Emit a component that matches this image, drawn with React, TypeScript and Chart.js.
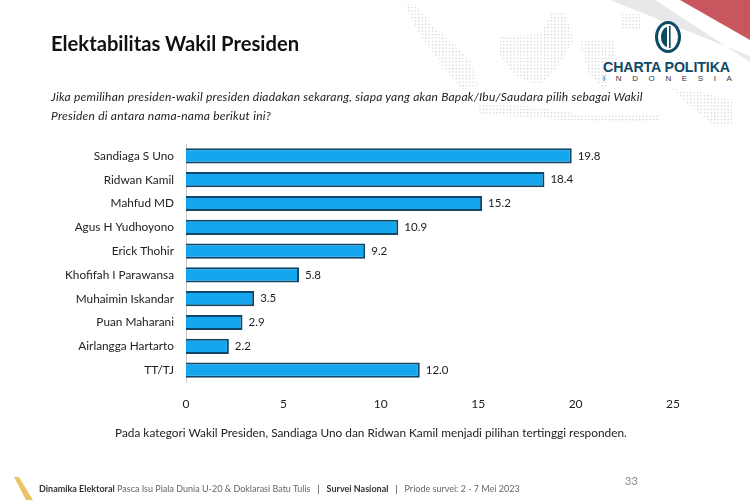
import React, { useEffect, useRef } from "react";
import { Chart, registerables } from "chart.js";

Chart.register(...registerables);

const categories = ["Sandiaga S Uno", "Ridwan Kamil", "Mahfud MD", "Agus H Yudhoyono", "Erick Thohir", "Khofifah I Parawansa", "Muhaimin Iskandar", "Puan Maharani", "Airlangga Hartarto", "TT/TJ"];
const values = [19.8, 18.4, 15.2, 10.9, 9.2, 5.8, 3.5, 2.9, 2.2, 12.0];
const xTicks = [0, 5, 10, 15, 20, 25];

const FONT = "Lato, 'Open Sans', sans-serif";

const valueLabels = {
  id: "valueLabels",
  afterDatasetsDraw(chart: any) {
    const { ctx } = chart;
    const meta = chart.getDatasetMeta(0);
    ctx.save();
    ctx.font = `11.5px ${FONT}`;
    ctx.fillStyle = "#222";
    ctx.textAlign = "left";
    ctx.textBaseline = "middle";
    meta.data.forEach((bar: any, i: number) => {
      ctx.fillText(values[i].toFixed(1), bar.x + 6, bar.y);
    });
    ctx.restore();
  },
};

const text = (left: number, top: number, size: number, extra: React.CSSProperties = {}): React.CSSProperties => ({
  position: "absolute", left, top, fontSize: size, fontFamily: FONT, color: "#222", whiteSpace: "nowrap", lineHeight: 1.2, ...extra,
});

const mapDots = (
  <svg width="750" height="130" style={{ position: "absolute", left: 0, top: 0 }}>
    <defs>
      <pattern id="dots" width="3.4" height="3.4" patternUnits="userSpaceOnUse">
        <rect width="1.2" height="1.2" fill="#c6cacf" />
      </pattern>
    </defs>
    <g fill="url(#dots)">
      <polygon points="404,3 420,8 432,26 450,40 470,60 478,85 462,90 440,62 420,36" />
      <polygon points="500,36 540,34 552,12 565,12 574,40 558,66 540,86 515,76 500,56" />
      <polygon points="579,42 612,38 617,60 604,90 588,72" />
      <polygon points="478,104 530,106 590,116 660,114 660,122 560,120 480,114" />
      <polygon points="670,88 700,92 732,100 732,126 712,124 690,106" />
      <polygon points="622,14 640,14 640,30 622,30" />
    </g>
    <polygon points="610,0 655,0 750,62 750,56" fill="#e8e8ea" />
    <polygon points="680,0 750,0 750,40" fill="#c8565e" />
  </svg>
);

const logo = (
  <>
    <svg width="40" height="44" style={{ position: "absolute", left: 648, top: 18 }}>
      <ellipse cx="20" cy="19" rx="13" ry="16" fill="#0f4a64" />
      <ellipse cx="20" cy="19" rx="10" ry="13" fill="#fff" />
      <path d="M13 19 a7 10 0 0 1 6 -10 v20 a7 10 0 0 1 -6 -10z" fill="#0f4a64" />
      <rect x="21" y="8" width="1.6" height="22" fill="#0f4a64" />
    </svg>
    <div style={text(603, 59, 14.2, { fontFamily: "'Liberation Sans', sans-serif", fontWeight: 700, color: "#0f4a64", letterSpacing: -0.1 })}>CHARTA POLITIKA</div>
    <div style={text(603, 74, 8, { fontFamily: "'Liberation Sans', sans-serif", color: "#333", letterSpacing: 10.6 })}>INDONESIA</div>
  </>
);

export default function App() {
  const ref = useRef<HTMLCanvasElement>(null);
  useEffect(() => {
    document.body.style.margin = "0";
    document.body.style.background = "#fff";
    const chart = new Chart(ref.current!, {
      type: "bar",
      data: {
        labels: categories,
        datasets: [{
          data: values,
          backgroundColor: "#14a7f0",
          borderColor: "#0e4668",
          borderWidth: 2,
          barPercentage: 0.64,
          categoryPercentage: 1,
        }],
      },
      options: {
        indexAxis: "y",
        responsive: false,
        animation: false,
        layout: { padding: { top: 144, right: 77, left: 0, bottom: 0 } },
        plugins: { legend: { display: false }, tooltip: { enabled: false } },
        scales: {
          x: {
            min: 0, max: 25,
            afterFit: (s: any) => { s.height = 118; },
            afterBuildTicks: (s: any) => { s.ticks = xTicks.map((value) => ({ value })); },
            grid: { display: false },
            border: { display: false },
            ticks: { font: { family: FONT, size: 12 }, color: "#222", padding: 7, maxRotation: 0 },
          },
          y: {
            afterFit: (s: any) => { s.width = 186; },
            grid: { display: false, drawTicks: false },
            border: { display: true, color: "#c9c9c9", width: 1 },
            ticks: { font: { family: FONT, size: 11.8 }, color: "#222", padding: 12, autoSkip: false },
          },
        },
      },
      plugins: [valueLabels],
    } as any);
    return () => chart.destroy();
  }, []);
  return (
    <div style={{ position: "relative", width: 750, height: 500, overflow: "hidden", background: "#fff" }}>
      {mapDots}
      {logo}
      <canvas ref={ref} width={750} height={500} style={{ position: "absolute", left: 0, top: 0, display: "block" }} />
      <div style={text(51, 31, 20.2, { fontWeight: 700, color: "#111" })}>Elektabilitas Wakil Presiden</div>
      <div style={text(51, 87, 12, { fontStyle: "italic", lineHeight: "19px", letterSpacing: 0.23 })}>
        Jika pemilihan presiden-wakil presiden diadakan sekarang, siapa yang akan Bapak/Ibu/Saudara pilih sebagai Wakil<br />
        Presiden di antara nama-nama berikut ini?
      </div>
      <div style={text(115, 426, 11.85)}>Pada kategori Wakil Presiden, Sandiaga Uno dan Ridwan Kamil menjadi pilihan tertinggi responden.</div>
      <svg width="40" height="30" style={{ position: "absolute", left: 0, top: 470 }}>
        <polygon points="14,7 19,7 33,30 26,30" fill="#ecc468" />
      </svg>
      <div style={text(39, 484, 9, { color: "#333" })}>
        <b>Dinamika Elektoral</b> <span style={{ color: "#666" }}>Pasca Isu Piala Dunia U-20 &amp; Doklarasi Batu Tulis</span>&nbsp;&nbsp;&nbsp;|&nbsp;&nbsp;&nbsp;<b>Survei Nasional</b>&nbsp;&nbsp;&nbsp;|&nbsp;&nbsp;&nbsp;<span style={{ color: "#666" }}>Priode survei: 2 - 7 Mei 2023</span>
      </div>
      <div style={text(625, 474, 11, { color: "#888" })}>33</div>
    </div>
  );
}
